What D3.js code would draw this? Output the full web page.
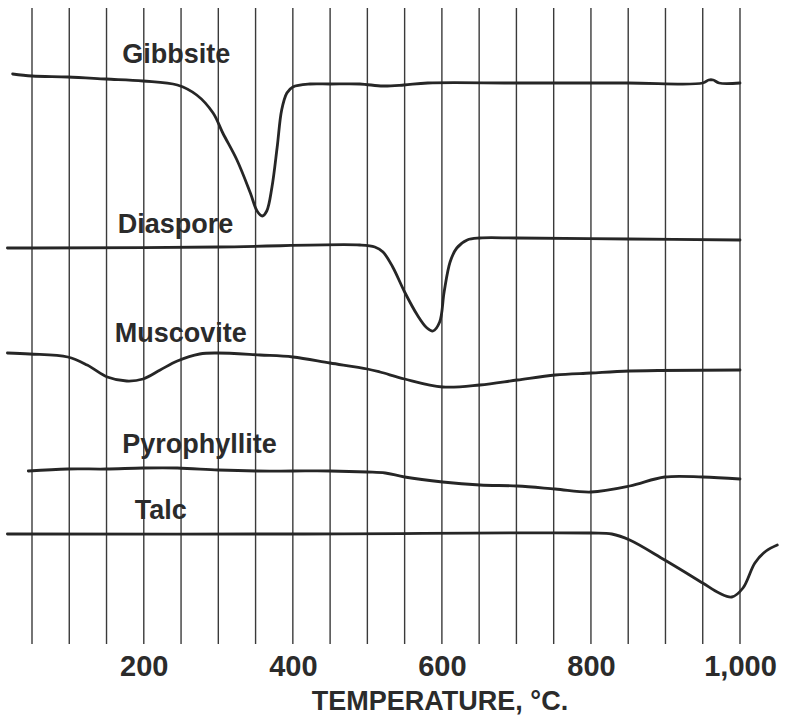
<!DOCTYPE html>
<html>
<head>
<meta charset="utf-8">
<script src="https://cdn.jsdelivr.net/npm/d3@7"></script>
<style>
  html, body { margin: 0; padding: 0; background: #ffffff; }
  svg { display: block; }
  text { font-family: "Liberation Sans", Arial, sans-serif; font-weight: bold; fill: #2b2b2b; }
</style>
</head>
<body>
<svg id="chart" width="785" height="717"></svg>
<script>
// ---- data (temperature °C, deflection in arbitrary units measured downward) ----
const gridTemps = d3.range(50, 1001, 50);
const tickValues = [200, 400, 600, 800, 1000];
const axisTitle = "TEMPERATURE, °C.";
const seriesNames = ["Gibbsite", "Diaspore", "Muscovite", "Pyrophyllite", "Talc"];

const gibbsite = [
  [24, 6.9], [50, 7.1], [98, 7.2], [149, 7.4], [199, 7.6], [245, 8.0], [271, 9.0],
  [293, 10.8], [306, 12.8], [325, 15.5], [343, 18.8], [352, 20.6], [359, 21.1],
  [365, 20.6], [372, 18.2], [379, 14.2], [385, 10.5], [392, 8.8], [400, 8.2],
  [423, 7.9], [450, 7.9], [490, 7.9], [521, 8.1], [549, 8.0], [581, 7.8],
  [700, 7.8], [850, 7.8], [950, 7.8], [958, 7.5], [964, 7.5], [972, 7.8], [1000, 7.8]
];
const diaspore = [
  [17, 24.3], [50, 24.3], [300, 24.2], [490, 24.0], [510, 24.2], [521, 24.7],
  [534, 26.2], [550, 28.7], [567, 31.0], [580, 32.3], [588, 32.6], [597, 31.7],
  [603, 28.7], [611, 25.7], [620, 24.3], [634, 23.5], [651, 23.3], [700, 23.3],
  [850, 23.4], [1000, 23.5]
];
const muscovite = [
  [17, 34.8], [47, 34.9], [98, 35.2], [124, 36.0], [151, 37.2], [177, 37.6],
  [199, 37.4], [222, 36.5], [245, 35.6], [275, 34.9], [298, 34.8], [356, 35.0],
  [400, 35.2], [450, 35.8], [500, 36.4], [517, 36.7], [550, 37.4], [601, 38.2],
  [651, 38.0], [701, 37.5], [752, 37.0], [800, 36.8], [852, 36.6], [1000, 36.5]
];
const pyrophyllite = [
  [45, 46.6], [98, 46.4], [149, 46.4], [199, 46.3], [245, 46.3], [300, 46.5],
  [352, 46.6], [400, 46.6], [450, 46.6], [500, 46.7], [524, 46.8], [550, 47.2],
  [601, 47.7], [651, 48.0], [701, 48.1], [752, 48.4], [800, 48.7], [852, 48.1],
  [899, 47.2], [950, 47.2], [1000, 47.4]
];
const talc = [
  [17, 52.9], [400, 52.9], [800, 52.8], [828, 52.9], [852, 53.5], [899, 55.5],
  [950, 57.8], [972, 58.8], [989, 59.2], [1004, 58.3], [1020, 55.8], [1035, 54.6], [1050, 54.0]
];
const seriesData = [gibbsite, diaspore, muscovite, pyrophyllite, talc];

// ---- layout ----
const svg = d3.select("#chart");
const x = d3.scaleLinear().domain([50, 1000]).range([32, 740]);
const y = d3.scaleLinear().domain([0, 64]).range([5, 645]);

// vertical grid lines
svg.append("g")
  .selectAll("line")
  .data(gridTemps)
  .join("line")
  .attr("x1", d => x(d)).attr("x2", d => x(d))
  .attr("y1", 8).attr("y2", 644)
  .attr("stroke", "#3a3a3a")
  .attr("stroke-width", 1.4);

// curves
const line = d3.line()
  .x(d => x(d[0]))
  .y(d => y(d[1]))
  .curve(d3.curveCatmullRom.alpha(0.5));

svg.append("g")
  .selectAll("path")
  .data(seriesData)
  .join("path")
  .attr("d", line)
  .attr("fill", "none")
  .attr("stroke", "#262626")
  .attr("stroke-width", 2.8)
  .attr("stroke-linejoin", "round")
  .attr("stroke-linecap", "round");

// curve labels (temperature of label start, baseline in deflection units)
const labelPos = [[171, 5.8], [165, 22.8], [161, 33.7], [171, 44.8], [188, 51.4]];
svg.append("g")
  .selectAll("text")
  .data(seriesNames)
  .join("text")
  .attr("x", (d, i) => x(labelPos[i][0]))
  .attr("y", (d, i) => y(labelPos[i][1]))
  .attr("font-size", 27)
  .text(d => d);

// x axis (labels only)
const axis = d3.axisBottom(x)
  .tickValues(tickValues)
  .tickSize(0)
  .tickPadding(0)
  .tickFormat(d3.format(","));
const gAxis = svg.append("g")
  .attr("transform", "translate(0,655)")
  .call(axis);
gAxis.select(".domain").remove();
gAxis.selectAll("text")
  .attr("font-size", 29)
  .attr("font-family", "Liberation Sans, Arial, sans-serif")
  .attr("font-weight", "bold")
  .attr("fill", "#2b2b2b")
  .attr("dy", "0.71em");

svg.append("text")
  .attr("x", 440)
  .attr("y", 710)
  .attr("text-anchor", "middle")
  .attr("font-size", 27)
  .text(axisTitle);
</script>
</body>
</html>
